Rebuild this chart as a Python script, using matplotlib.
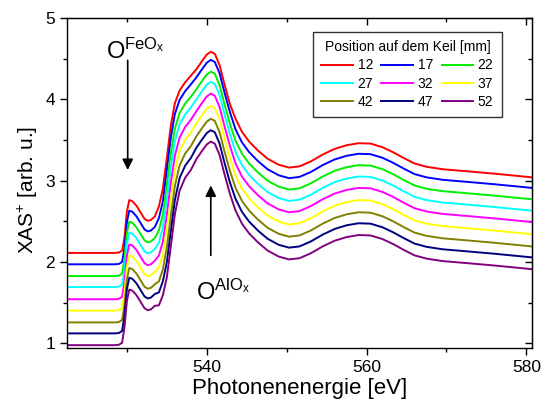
import numpy as np
import matplotlib
matplotlib.use('Agg')
import matplotlib.pyplot as plt
from matplotlib.ticker import MultipleLocator

plt.rcParams['font.family'] = ['Liberation Sans', 'DejaVu Sans']
plt.rcParams['mathtext.fontset'] = 'custom'
plt.rcParams['mathtext.rm'] = 'Liberation Sans'
plt.rcParams['mathtext.it'] = 'Liberation Sans:italic'

# photon energy grid [eV]
energy = [522.5, 528.5, 529.0, 529.4, 529.7, 530.0, 530.3, 530.7, 531.2, 531.7,
          532.2, 532.6, 533.0, 533.5, 534.0, 534.5, 535.0, 535.5, 536.0, 536.6,
          537.3, 538.0, 538.7, 539.4, 540.0, 540.5, 541.0, 541.6, 542.2, 542.9,
          543.6, 544.4, 545.3, 546.4, 547.6, 549.0, 550.3, 551.6, 553.0, 554.5,
          556.0, 557.5, 559.0, 560.5, 562.0, 563.3, 564.6, 566.0, 567.5, 569.5,
          572.5, 576.0, 580.7]

# position on the wedge [mm]
positions = ['12', '17', '22', '27', '32', '37', '42', '47', '52']
colors = ['#ff0000', '#0000ff', '#00ee00', '#00ffff', '#ff00ff',
          '#ffff00', '#808000', '#000080', '#800080']

xas_12 = [2.11, 2.11, 2.115, 2.14,
          2.30, 2.62, 2.76, 2.745, 2.69, 2.61, 2.53, 2.505, 2.515, 2.56,
          2.68, 2.90, 3.28, 3.68, 3.95, 4.11, 4.21, 4.29,
          4.37, 4.47, 4.55, 4.585, 4.56, 4.42, 4.19, 3.94,
          3.76, 3.60, 3.48, 3.37, 3.27, 3.195, 3.16, 3.175, 3.235, 3.32, 3.39, 3.435,
          3.46, 3.455, 3.41, 3.35, 3.28, 3.21, 3.17, 3.14, 3.115, 3.085, 3.04]
xas_17 = [1.97, 1.97, 1.975, 2.00,
          2.17, 2.49, 2.63, 2.615, 2.56, 2.48, 2.40, 2.375, 2.385, 2.43,
          2.536, 2.744, 3.134, 3.532, 3.818, 3.994, 4.101, 4.183,
          4.27, 4.37, 4.45, 4.485, 4.46, 4.32, 4.09, 3.84,
          3.63, 3.47, 3.35, 3.24, 3.14, 3.065, 3.03, 3.045, 3.105, 3.19, 3.26, 3.305,
          3.33, 3.325, 3.28, 3.22, 3.15, 3.08, 3.04, 3.01, 2.985, 2.955, 2.91]
xas_22 = [1.825, 1.825, 1.83, 1.855,
          2.035, 2.355, 2.495, 2.48, 2.425, 2.345, 2.265, 2.24, 2.25, 2.295,
          2.386, 2.582, 2.944, 3.339, 3.64, 3.833, 3.948, 4.031,
          4.125, 4.225, 4.305, 4.34, 4.315, 4.175, 3.945, 3.695,
          3.49, 3.33, 3.21, 3.10, 3.00, 2.925, 2.89, 2.905, 2.965, 3.05, 3.12, 3.165,
          3.19, 3.185, 3.14, 3.08, 3.01, 2.94, 2.90, 2.87, 2.845, 2.815, 2.77]
xas_27 = [1.69, 1.69, 1.695, 1.72,
          1.90, 2.22, 2.36, 2.345, 2.29, 2.21, 2.13, 2.105, 2.115, 2.16,
          2.237, 2.421, 2.773, 3.166, 3.483, 3.692, 3.814, 3.899,
          4.00, 4.10, 4.18, 4.215, 4.19, 4.05, 3.82, 3.57,
          3.35, 3.19, 3.07, 2.96, 2.86, 2.785, 2.75, 2.765, 2.825, 2.91, 2.98, 3.025,
          3.05, 3.045, 3.00, 2.94, 2.87, 2.80, 2.76, 2.73, 2.705, 2.675, 2.63]
xas_32 = [1.54, 1.54, 1.545, 1.57,
          1.755, 2.075, 2.215, 2.20, 2.145, 2.065, 1.985, 1.96, 1.97, 2.015,
          2.077, 2.249, 2.583, 2.973, 3.305, 3.531, 3.661, 3.748,
          3.855, 3.955, 4.035, 4.07, 4.045, 3.905, 3.675, 3.425,
          3.21, 3.05, 2.93, 2.82, 2.72, 2.645, 2.61, 2.625, 2.685, 2.77, 2.84, 2.885,
          2.91, 2.905, 2.86, 2.80, 2.73, 2.66, 2.62, 2.59, 2.565, 2.535, 2.49]
xas_37 = [1.40, 1.40, 1.405, 1.43,
          1.62, 1.94, 2.08, 2.065, 2.01, 1.93, 1.85, 1.825, 1.835, 1.88,
          1.928, 2.088, 2.387, 2.775, 3.123, 3.365, 3.502, 3.591,
          3.705, 3.805, 3.885, 3.92, 3.895, 3.755, 3.525, 3.275,
          3.06, 2.90, 2.78, 2.67, 2.57, 2.495, 2.46, 2.475, 2.535, 2.62, 2.69, 2.735,
          2.76, 2.755, 2.71, 2.65, 2.58, 2.51, 2.47, 2.44, 2.415, 2.385, 2.34]
xas_42 = [1.255, 1.255, 1.26, 1.285,
          1.465, 1.785, 1.925, 1.91, 1.855, 1.775, 1.695, 1.67, 1.68, 1.725,
          1.759, 1.907, 2.181, 2.567, 2.931, 3.189, 3.334, 3.424,
          3.545, 3.645, 3.725, 3.76, 3.735, 3.595, 3.365, 3.115,
          2.91, 2.75, 2.63, 2.52, 2.42, 2.345, 2.31, 2.325, 2.385, 2.47, 2.54, 2.585,
          2.61, 2.605, 2.56, 2.50, 2.43, 2.36, 2.32, 2.29, 2.265, 2.235, 2.19]
xas_47 = [1.12, 1.12, 1.125, 1.15,
          1.345, 1.665, 1.805, 1.79, 1.735, 1.655, 1.575, 1.55, 1.56, 1.605,
          1.624, 1.76, 1.996, 2.379, 2.758, 3.033, 3.185, 3.277,
          3.405, 3.505, 3.585, 3.62, 3.595, 3.455, 3.225, 2.975,
          2.775, 2.615, 2.495, 2.385, 2.285, 2.21, 2.175, 2.19, 2.25, 2.335, 2.405, 2.45,
          2.475, 2.47, 2.425, 2.365, 2.295, 2.225, 2.185, 2.155, 2.13, 2.10, 2.055]
xas_52 = [0.975, 0.975, 0.98, 1.005,
          1.20, 1.52, 1.66, 1.645, 1.59, 1.51, 1.43, 1.405, 1.415, 1.46,
          1.465, 1.589, 1.81, 2.191, 2.586, 2.877, 3.036, 3.13,
          3.265, 3.365, 3.445, 3.48, 3.455, 3.315, 3.085, 2.835,
          2.63, 2.47, 2.35, 2.24, 2.14, 2.065, 2.03, 2.045, 2.105, 2.19, 2.26, 2.305,
          2.33, 2.325, 2.28, 2.22, 2.15, 2.08, 2.04, 2.01, 1.985, 1.955, 1.91]

spectra = [xas_12, xas_17, xas_22, xas_27, xas_32, xas_37, xas_42, xas_47, xas_52]

fig = plt.figure(figsize=(5.45, 4.09), dpi=100)
ax = fig.add_axes([0.1229, 0.1491, 0.8532, 0.8068])

lines = []
for pos, col, y in zip(positions, colors, spectra):
    ln, = ax.plot(energy, y, color=col, lw=1.4, label=pos)
    lines.append(ln)

ax.set_xlim(522.5, 580.7)
ax.set_ylim(0.94, 5.0)
ax.xaxis.set_major_locator(MultipleLocator(20))
ax.xaxis.set_minor_locator(MultipleLocator(10))
ax.yaxis.set_major_locator(MultipleLocator(1))
ax.yaxis.set_minor_locator(MultipleLocator(0.5))
ax.tick_params(which='both', direction='out', labelsize=12.5, width=1)
ax.tick_params(which='major', length=5)
ax.tick_params(which='minor', length=3)
for s in ax.spines.values():
    s.set_linewidth(1)

# inward ticks on top and right
top = ax.secondary_xaxis('top')
top.xaxis.set_major_locator(MultipleLocator(20))
top.xaxis.set_minor_locator(MultipleLocator(10))
top.tick_params(which='both', direction='in', labeltop=False, width=1)
top.tick_params(which='major', length=5)
top.tick_params(which='minor', length=3)
right = ax.secondary_yaxis('right')
right.yaxis.set_major_locator(MultipleLocator(1))
right.yaxis.set_minor_locator(MultipleLocator(0.5))
right.tick_params(which='both', direction='in', labelright=False, width=1)
right.tick_params(which='major', length=5)
right.tick_params(which='minor', length=3)

ax.set_xlabel('Photonenenergie [eV]', fontsize=16, labelpad=2)
ax.set_ylabel(r'XAS$^{+}$ [arb. u.]', fontsize=15)
ax.yaxis.set_label_coords(-0.058, 0.48)

# arrows and labels
arrow = dict(arrowstyle='-|>', color='black', lw=1.2, mutation_scale=16, shrinkA=0, shrinkB=0)
ax.annotate('', xy=(530.1, 3.13), xytext=(530.1, 4.48), arrowprops=arrow)
ax.annotate('', xy=(540.5, 2.94), xytext=(540.5, 2.08), arrowprops=arrow)
ax.text(527.4, 4.50, r'O$^{\mathregular{FeO_x}}$', fontsize=17, ha='left', va='baseline')
ax.text(538.6, 1.53, r'O$^{\mathregular{AlO_x}}$', fontsize=17, ha='left', va='baseline')

order = [0, 3, 6, 1, 4, 7, 2, 5, 8]
leg = ax.legend([lines[i] for i in order], [positions[i] for i in order],
                ncol=3, title='Position auf dem Keil [mm]', fontsize=10,
                title_fontsize=10, loc='upper right', bbox_to_anchor=(0.935, 0.958),
                borderaxespad=0, frameon=True, fancybox=False, handlelength=2.3,
                handletextpad=0.3, columnspacing=0.6, labelspacing=0.3,
                borderpad=0.6)
leg.get_frame().set_edgecolor('black')
leg.get_frame().set_linewidth(1)

plt.savefig('out.png', dpi=100)
